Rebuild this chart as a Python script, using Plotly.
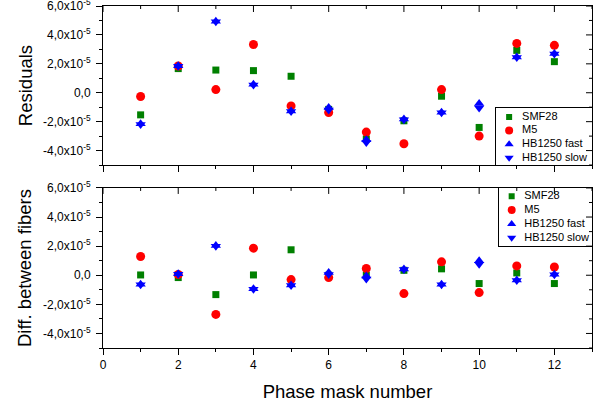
import plotly.graph_objects as go

# ---------------- data (values in units of 1e-5) ----------------
phase_mask = [1, 2, 3, 4, 5, 6, 7, 8, 9, 10, 11, 12]

res_smf28 = [-1.53, 1.67, 1.57, 1.53, 1.14, -1.15, -3.20, -1.94, -0.24, -2.40, 2.93, 2.15]
res_m5    = [-0.26, 1.85, 0.22, 3.34, -0.91, -1.37, -2.72, -3.53, 0.22, -3.00, 3.41, 3.28]
res_fast  = [-2.15, 1.87, 4.95, 0.58, -1.26, -1.02, -3.25, -1.82, -1.35, -0.75, 2.47, 2.72]
res_slow  = [-2.19, 1.83, 4.91, 0.54, -1.30, -1.20, -3.45, -1.86, -1.39, -1.05, 2.43, 2.68]

diff_smf28 = [0.02, -0.16, -1.33, 0.02, 1.75, 0.00, 0.00, 0.34, 0.44, -0.57, 0.16, -0.57]
diff_m5    = [1.29, 0.05, -2.69, 1.86, -0.30, -0.16, 0.46, -1.26, 0.92, -1.19, 0.64, 0.57]
diff_fast  = [-0.62, 0.11, 2.04, -0.92, -0.67, 0.18, -0.06, 0.43, -0.62, 1.00, -0.32, 0.07]
diff_slow  = [-0.66, 0.07, 2.00, -0.96, -0.71, 0.05, -0.25, 0.39, -0.66, 0.75, -0.36, 0.03]

series_names = ["SMF28", "M5", "HB1250 fast", "HB1250 slow"]
y_tick_vals = [-4, -2, 0, 2, 4, 6]
y_tick_text = ["-4,0x10<sup>-5</sup>", "-2,0x10<sup>-5</sup>", "0,0",
               "2,0x10<sup>-5</sup>", "4,0x10<sup>-5</sup>", "6,0x10<sup>-5</sup>"]
y_minor_vals = [-5, -3, -1, 1, 3, 5]
x_tick_vals = [0, 2, 4, 6, 8, 10, 12]
x_minor_vals = [1, 3, 5, 7, 9, 11, 13]
SCALE = 1e-5

styles = [
    dict(symbol="square", color="#008000", size=7, lsize=6),
    dict(symbol="circle", color="#FF0000", size=9, lsize=8),
    dict(symbol="triangle-up", color="#0000FF", size=9, lsize=8),
    dict(symbol="triangle-down", color="#0000FF", size=9, lsize=8),
]

FONT = "Arial, Liberation Sans, sans-serif"
fig = go.Figure()

top_sets = [res_smf28, res_m5, res_fast, res_slow]
bot_sets = [diff_smf28, diff_m5, diff_fast, diff_slow]
for name, st, ys in zip(series_names, styles, top_sets):
    fig.add_trace(go.Scatter(x=phase_mask, y=[v * SCALE for v in ys], mode="markers",
                             name=name, showlegend=False,
                             marker=dict(symbol=st["symbol"], color=st["color"],
                                         size=st["size"], line=dict(width=0)),
                             xaxis="x2", yaxis="y2"))
for name, st, ys in zip(series_names, styles, bot_sets):
    fig.add_trace(go.Scatter(x=phase_mask, y=[v * SCALE for v in ys], mode="markers",
                             name=name, showlegend=False,
                             marker=dict(symbol=st["symbol"], color=st["color"],
                                         size=st["size"], line=dict(width=0)),
                             xaxis="x", yaxis="y"))

# legend boxes built on their own small axes (one row per series)
rows = list(range(len(series_names)))
for xa, ya in [("x5", "y5"), ("x6", "y6")]:
    for r, name, st in zip(rows, series_names, styles):
        fig.add_trace(go.Scatter(x=[13], y=[r], mode="markers", showlegend=False,
                                 hoverinfo="skip",
                                 marker=dict(symbol=st["symbol"], color=st["color"],
                                             size=st["lsize"], line=dict(width=0)),
                                 xaxis=xa, yaxis=ya))
    fig.add_trace(go.Scatter(x=[26] * len(rows), y=rows, mode="text", text=series_names,
                             textposition="middle right", showlegend=False, hoverinfo="skip",
                             textfont=dict(family=FONT, size=11, color="black"),
                             xaxis=xa, yaxis=ya))

xr = [0, 13]
yr = [-5 * SCALE, 6 * SCALE]
yv = [v * SCALE for v in y_tick_vals]
ymv = [v * SCALE for v in y_minor_vals]
TOP_DOM = [0.535, 1.0]
BOT_DOM = [0.0, 0.468]

axis_common = dict(showgrid=False, zeroline=False, showline=True, linecolor="black",
                   linewidth=1, automargin=False, ticklabeloverflow="allow",
                   tickfont=dict(family=FONT, size=12, color="black"))

x_main = dict(range=xr, tickmode="array", tickvals=x_tick_vals, ticks="outside", ticklen=6,
              mirror=True, tickcolor="black",
              minor=dict(tickmode="array", tickvals=x_minor_vals, ticks="outside", ticklen=3,
                         tickcolor="black", showgrid=False), **axis_common)
y_main = dict(range=yr, tickmode="array", tickvals=yv, ticktext=y_tick_text, ticks="outside",
              ticklen=6, mirror=True, tickcolor="black", ticklabelstandoff=3,
              minor=dict(tickmode="array", tickvals=ymv, ticks="outside", ticklen=3,
                         tickcolor="black", showgrid=False), **axis_common)

# inside ticks on the mirrored (top / right) frame edges, placed on the axes' own scales
shapes = []
tick_line = dict(color="black", width=1)
for xref, yref in [("x", "y"), ("x2", "y2")]:
    for vals, ln in [(x_tick_vals, 6), (x_minor_vals, 3)]:
        for v in vals:
            shapes.append(dict(type="line", xref=xref, yref=yref + " domain",
                               ysizemode="pixel", yanchor=1, x0=v, x1=v, y0=0, y1=-ln,
                               line=tick_line, layer="above"))
    for vals, ln in [(yv, 6), (ymv, 3)]:
        for v in vals:
            shapes.append(dict(type="line", yref=yref, xref=xref + " domain",
                               xsizemode="pixel", xanchor=1, y0=v, y1=v, x0=0, x1=-ln,
                               line=tick_line, layer="above"))

leg_x = dict(range=[0, 96], showgrid=False, zeroline=False, showticklabels=False, ticks="",
             showline=True, mirror=True, linecolor="black", linewidth=1, fixedrange=True)
leg_y = dict(showgrid=False, zeroline=False, showticklabels=False, ticks="",
             showline=True, mirror=True, linecolor="black", linewidth=1, fixedrange=True)

title_font = dict(family=FONT, size=18.5, color="black")

fig.update_layout(
    width=597, height=406,
    margin=dict(l=103, r=5, t=6, b=58),
    paper_bgcolor="white", plot_bgcolor="white",
    font=dict(family=FONT, color="black"),
    showlegend=False,
    shapes=shapes,
    xaxis=dict(anchor="y", domain=[0, 1],
               title=dict(text="Phase mask number", font=title_font, standoff=13), **x_main),
    yaxis=dict(anchor="x", domain=BOT_DOM,
               title=dict(text="Diff. between fibers", font=title_font, standoff=6), **y_main),
    xaxis2=dict(anchor="y2", domain=[0, 1], showticklabels=False, **x_main),
    yaxis2=dict(anchor="x2", domain=TOP_DOM,
                title=dict(text="Residuals", font=title_font, standoff=5), **y_main),
    xaxis5=dict(anchor="y5", domain=[0.804, 1.0], **leg_x),
    yaxis5=dict(anchor="x5", domain=[0.535, 0.702], range=[3.53, -0.66], **leg_y),
    xaxis6=dict(anchor="y6", domain=[0.810, 1.0], **leg_x),
    yaxis6=dict(anchor="x6", domain=[0.298, 0.468], range=[3.6, -0.6], **leg_y),
)

fig.write_html("out.html")
